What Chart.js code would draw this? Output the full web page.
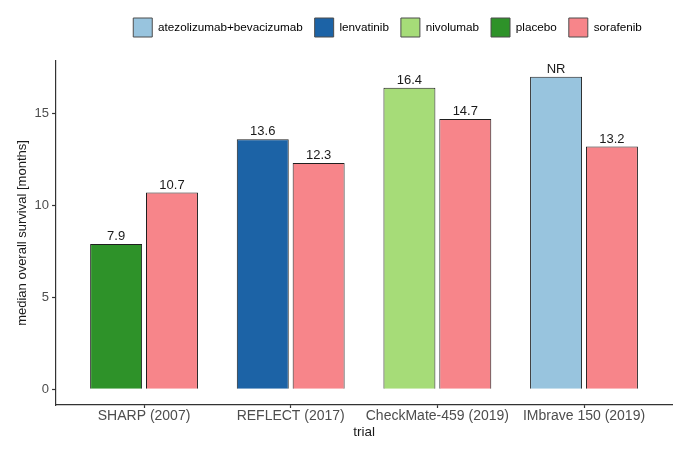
<!DOCTYPE html>
<html>
<head>
<meta charset="utf-8">
<script src="https://cdn.jsdelivr.net/npm/chart.js@4/dist/chart.umd.min.js"></script>
<style>
  body { margin: 0; background: #fff; }
  #wrap { width: 685px; height: 454px; }
</style>
</head>
<body>
<div id="wrap"><canvas id="myChart"></canvas></div>
<script>
// trials on the x axis
const trials = ['SHARP (2007)', 'REFLECT (2017)', 'CheckMate-459 (2019)', 'IMbrave 150 (2019)'];
const drugs = ['atezolizumab+bevacizumab', 'lenvatinib', 'nivolumab', 'placebo', 'sorafenib'];
const colores = ['#98c4de', '#1c63a6', '#a6dc78', '#2e9229', '#f7858a'];

// median OS (months), one list per drug, null = not in that trial
const atezoBeva  = [null, null, null, 17.0];   // not reached, drawn to the top
const lenvatinib = [null, 13.6, null, null];
const nivolumab  = [null, null, 16.4, null];
const placebo    = [7.9, null, null, null];
const sorafenib  = [10.7, 12.3, 14.7, 13.2];
const etiquetas  = [
  [null, null, null, 'NR'],
  [null, '13.6', null, null],
  [null, null, '16.4', null],
  ['7.9', null, null, null],
  ['10.7', '12.3', '14.7', '13.2']
];
const yTicks = [0, 5, 10, 15];

const series = [atezoBeva, lenvatinib, nivolumab, placebo, sorafenib];

const datasets = series.map((vals, d) => ({
  label: drugs[d],
  data: vals.map((v, i) => ({ x: i + 1, y: v })),
  backgroundColor: colores[d],
  borderColor: '#1f1f1f',
  borderWidth: 1,
  categoryPercentage: 0.762,
  barPercentage: 0.93,
  skipNull: true
}));

const etiquetasPlugin = {
  id: 'etiquetas',
  afterDatasetsDraw(chart) {
    const ctx = chart.ctx;
    ctx.save();
    ctx.font = '13px "Liberation Sans", Arial, sans-serif';
    ctx.fillStyle = '#1a1a1a';
    ctx.textAlign = 'center';
    ctx.textBaseline = 'bottom';
    chart.data.datasets.forEach((ds, d) => {
      chart.getDatasetMeta(d).data.forEach((bar, i) => {
        const txt = etiquetas[d][i];
        if (txt === null || ds.data[i].y === null) return;
        ctx.fillText(txt, bar.x, bar.y - 1);
      });
    });
    ctx.restore();
  }
};

const moverLeyenda = {
  id: 'moverLeyenda',
  beforeInit(chart) {
    const fitOrig = chart.legend.fit;
    chart.legend.fit = function () {
      fitOrig.call(this);
      this.height += 18;
    };
  },
  afterLayout(chart) {
    chart.legend.left += 44;
    chart.legend.right += 44;
    chart.legend.top += 4;
  }
};

const fuente = '"Liberation Sans", Arial, sans-serif';

let chart = new Chart(document.getElementById('myChart').getContext('2d'), {
  type: 'bar',
  data: { datasets: datasets },
  plugins: [etiquetasPlugin, moverLeyenda],
  options: {
    responsive: true,
    maintainAspectRatio: false,
    animation: false,
    layout: { padding: { left: 15, right: 13, top: 2, bottom: 14 } },
    plugins: {
      tooltip: { enabled: false },
      legend: {
        position: 'top',
        labels: {
          boxWidth: 19,
          boxHeight: 19,
          padding: 12,
          color: '#1a1a1a',
          font: { family: fuente, size: 11.7 },
          generateLabels(chart) {
            return chart.data.datasets.map((ds, i) => ({
              text: ds.label,
              fillStyle: ds.backgroundColor,
              strokeStyle: '#4d4d4d',
              lineWidth: 1,
              datasetIndex: i
            }));
          }
        }
      }
    },
    scales: {
      x: {
        type: 'linear',
        min: 0.4,
        max: 4.6,
        offset: false,
        afterBuildTicks(scale) {
          scale.ticks = trials.map((t, i) => ({ value: i + 1 }));
        },
        ticks: {
          color: '#4d4d4d',
          font: { family: fuente, size: 14 },
          padding: 0,
          maxRotation: 0,
          autoSkip: false,
          callback: (v) => trials[v - 1]
        },
        grid: { offset: false, drawOnChartArea: false, drawTicks: true, tickLength: 3, color: '#333', tickColor: '#333', tickWidth: 1.2 },
        border: { display: true, color: '#333', width: 1.2 },
        title: { display: true, text: 'trial', color: '#1a1a1a', font: { family: fuente, size: 13.5 }, padding: { top: -1, bottom: 0 } }
      },
      y: {
        min: -0.85,
        max: 17.85,
        afterBuildTicks(scale) {
          scale.ticks = yTicks.map(v => ({ value: v }));
        },
        ticks: {
          color: '#4d4d4d',
          font: { family: fuente, size: 13 },
          padding: 3
        },
        grid: { drawOnChartArea: false, drawTicks: true, tickLength: 4, color: '#333', tickColor: '#333', tickWidth: 1.2 },
        border: { display: true, color: '#333', width: 1.2 },
        title: { display: true, text: 'median overall survival [months]', color: '#1a1a1a', font: { family: fuente, size: 13 }, padding: { top: 0, bottom: 1 } }
      }
    }
  }
});
</script>
</body>
</html>
